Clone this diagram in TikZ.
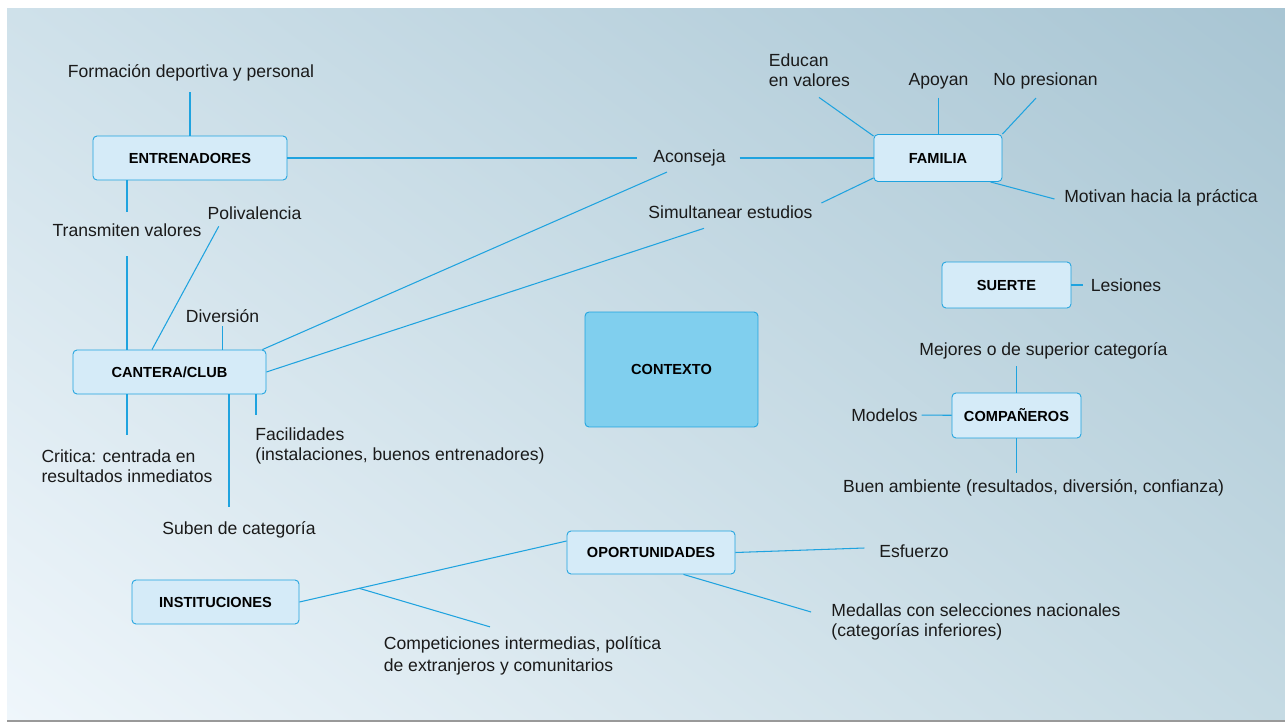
\documentclass[tikz,border=0pt]{standalone}
\usepackage{fontspec}
\setmainfont{Liberation Sans}
\usepackage{tikz}
\usetikzlibrary{shadings}

\definecolor{linkblue}{HTML}{1FA3DF}
\definecolor{boxfill}{HTML}{D5EBF8}
\definecolor{ctxfill}{HTML}{80CFEE}
\definecolor{inkdark}{HTML}{1A1A1A}
\definecolor{bgul}{HTML}{CFE1EA}
\definecolor{bgur}{HTML}{A8C5D3}
\definecolor{bgll}{HTML}{EFF6FB}
\definecolor{bglr}{HTML}{C5DAE3}

\tikzset{
  link/.style={draw=linkblue, line width=0.6pt},
  concept/.style={draw=linkblue, fill=boxfill, rounded corners=0.08cm, line width=0.5pt,
    inner sep=0pt, text=black, font=\bfseries\fontsize{8.3}{10}\selectfont},
  lbl/.style={inner sep=2pt, text=inkdark, font=\fontsize{10}{11.5}\selectfont},
  lbl2/.style={lbl, align=left}
}

\begin{document}
\begin{tikzpicture}[x=0.02cm, y=-0.02cm]
          % frame and background
          \useasboundingbox (0,0) rectangle (1285,723);
          \shade[upper left=bgul, upper right=bgur, lower left=bgll, lower right=bglr]
                (7,9) rectangle (1285,721);
          \draw[gray!80, line width=0.8pt] (7,721) -- (1285,721);
          % boxes
          \node[concept, minimum width=3.88cm, minimum height=0.88cm] (entr) at (190,158) {ENTRENADORES};
          \node[concept, minimum width=2.56cm, minimum height=0.94cm] (fam) at (938,158) {FAMILIA};
          \node[concept, minimum width=3.86cm, minimum height=0.88cm] (cant) at (169.5,372) {CANTERA/CLUB};
          \node[concept, fill=ctxfill, minimum width=3.46cm, minimum height=2.30cm] (ctx) at (671.5,369.5) {CONTEXTO};
          \node[concept, minimum width=2.58cm, minimum height=0.92cm] (suerte) at (1006.5,285) {SUERTE};
          \node[concept, minimum width=2.58cm, minimum height=0.90cm] (comp) at (1016.5,415.5) {COMPAÑEROS};
          \node[concept, minimum width=3.36cm, minimum height=0.86cm] (oport) at (651,552.5) {OPORTUNIDADES};
          \node[concept, minimum width=3.34cm, minimum height=0.88cm] (inst) at (215.5,602) {INSTITUCIONES};
          % labels
          \node[lbl] (formacion) at (191,73) {Formación deportiva y personal};
          \node[lbl] (aconseja) at (689.5,158) {Aconseja};
          \node[lbl] (transmiten) at (127,230) {Transmiten valores};
          \node[lbl] (polival) at (254.5,213) {Polivalencia};
          \node[lbl] (diversion) at (222.5,316) {Diversión};
          \node[lbl] (simult) at (730.5,212) {Simultanear estudios};
          \node[lbl2] (educan) at (809.5,70) {Educan\\en valores};
          \node[lbl] (apoyan) at (938.5,81) {Apoyan};
          \node[lbl] (nopres) at (1045.5,81) {No presionan};
          \node[lbl] (motivan) at (1161,198) {Motivan hacia la práctica};
          \node[lbl] (lesiones) at (1126,285) {Lesiones};
          \node[lbl] (mejores) at (1043.5,351) {Mejores o de superior categoría};
          \node[lbl] (modelos) at (884.5,415) {Modelos};
          \node[lbl] (buen) at (1033.5,488) {Buen ambiente (resultados, diversión, confianza)};
          \node[lbl2] (critica) at (127,466.5) {Critica: centrada en\\resultados inmediatos};
          \node[lbl2] (facil) at (400,446) {Facilidades\\(instalaciones, buenos entrenadores)};
          \node[lbl] (suben) at (239,530) {Suben de categoría};
          \node[lbl2, font=\fontsize{10}{12.5}\selectfont] (compet) at (522.5,656) {Competiciones intermedias, política\\de extranjeros y comunitarios};
          \node[lbl] (esfuerzo) at (914,551) {Esfuerzo};
          \node[lbl2] (medallas) at (976,622) {Medallas con selecciones nacionales\\(categorías inferiores)};
          % entrenadores
          \draw[link, shorten >=0.14cm] (entr.north) -- (entr.north |- formacion.south);
          \draw[link, shorten >=0.26cm] (entr) -- (aconseja);
          \draw[link, shorten <=0.2cm] (aconseja) -- (fam);
          \draw[link, shorten >=0.16cm] (entr.south -| transmiten) -- (transmiten);
          \draw[link, shorten <=0.32cm] (transmiten) -- (cant.north -| transmiten);
          % cantera/club
          \draw[link] ([shift={(-17.5,0)}]cant.north) -- ([shift={(15,3)}]polival.south west);
          \draw[link] (diversion.south) -- (cant.north -| diversion.south);
          \draw[link] ([shift={(-4,0)}]cant.north east) -- ([shift={(-22.5,2)}]aconseja.south);
          \draw[link] (cant.east) -- ([shift={(-26.5,6)}]simult.south);
          \coordinate (critroot) at ([shift={(-42.5,0)}]cant.south);
          \coordinate (subenroot) at ([shift={(59.5,0)}]cant.south);
          \coordinate (facroot) at ([shift={(86.5,0)}]cant.south);
          \draw[link, shorten >=0.22cm] (critroot) -- (critroot |- critica.north);
          \draw[link, shorten >=0.22cm] (subenroot) -- (subenroot |- suben.north);
          \draw[link, shorten >=0.18cm] (facroot) -- (facroot |- facil.north);
          % familia
          \draw[link] ([shift={(5,-9)}]simult.east) -- ([shift={(0,-4)}]fam.south west);
          \draw[link] ([shift={(9.5,7)}]educan.south) -- ([shift={(0,2)}]fam.north west);
          \draw[link, shorten <=0.1cm] (apoyan.south) -- (fam.north -| apoyan.south);
          \draw[link] ([shift={(-9.5,5)}]nopres.south) -- (fam.north east);
          \draw[link] ([shift={(-12,0)}]fam.south east) -- ([shift={(-6,1)}]motivan.west);
          % suerte, companeros
          \draw[link, shorten >=0.07cm] (suerte) -- (lesiones);
          \draw[link, shorten >=0.06cm] (comp.north) -- (comp.north |- mejores.south);
          \draw[link] (modelos) -- (comp);
          \draw[link, shorten >=0.06cm] (comp.south) -- (comp.south |- buen.north);
          % instituciones, oportunidades
          \draw[link] (inst.east) -- coordinate[pos=0.224] (instfork) ([shift={(0,-11.5)}]oport.west);
          \draw[link] (instfork) -- ([shift={(-32.5,-6)}]compet.north);
          \draw[link] (oport.east) -- ([shift={(-11,-3)}]esfuerzo.west);
          \draw[link] ([shift={(32.5,0)}]oport.south) -- ([shift={(-16.5,-10)}]medallas.west);
        \end{tikzpicture}
\end{document}
